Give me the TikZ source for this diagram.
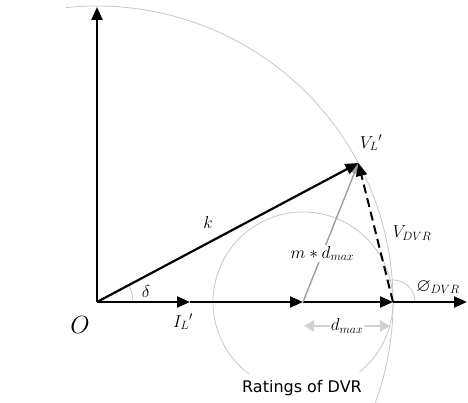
\documentclass[tikz,border=0pt]{standalone}
\usepackage{fontspec}
\usepackage{amssymb}
\newfontfamily\labelsans{DejaVu Sans}
\usetikzlibrary{arrows.meta}
\begin{document}
\begin{tikzpicture}[x=1pt,y=1pt,
  vec/.style={line width=2.2pt,-{Triangle[length=13pt,width=11pt]}},
  dvec/.style={line width=2pt,dash pattern=on 9pt off 5pt,-{Triangle[length=13pt,width=11pt]}},
  gvec/.style={line width=1.4pt,color=black!38,-{Triangle[length=11pt,width=9pt]}},
  circ/.style={line width=0.8pt,color=black!22},
  lab/.style={font=\fontsize{18.5}{21}\selectfont,inner sep=1pt},
  wlab/.style={font=\fontsize{18.5}{21}\selectfont,inner sep=1pt,fill=white}]
\useasboundingbox (0,0) rectangle (468,402);
\coordinate (O) at (97,100);
\coordinate (Y) at (97,395);
\coordinate (A1) at (190,100);
\coordinate (A2) at (303,100);
\coordinate (A3) at (393,100);
\coordinate (E) at (467,100);
\coordinate (V) at (358.4,239);
% circles
\begin{scope}
\clip (0,0) rectangle (468,402);
\draw[circ] (O) ++(-20:296) arc[start angle=-20,end angle=96,radius=296];
\end{scope}
\draw[circ] (A2) ++(-51:90) arc[start angle=-51,end angle=233,radius=90];
% angles
\draw[circ] (O) ++(0:36) arc[start angle=0,end angle=28,radius=36];
\draw[circ] (A3) ++(0:22) arc[start angle=0,end angle=104,radius=22];
% axes
\draw[vec] (O) -- (Y);
\draw[vec] (O) -- (A1);
\draw[vec] (A1) -- (A2);
\draw[vec] (A2) -- (A3);
\draw[vec] (A3) -- (E);
% vectors
\draw[gvec] (A2) -- node[wlab,pos=0.35,text=black] (md) {$m*d_{max}$} (V);
\draw[vec] (O) -- (V);
\draw[dvec] (A3) -- (V);
% d_max
\coordinate (D1) at (304,76);
\coordinate (D2) at (390,76);
\draw[line width=2.8pt,color=black!18,{Triangle[length=10pt,width=11pt]}-{Triangle[length=10pt,width=11pt]}] (D1) -- node[wlab,text=black] (dm) {$d_{max}$} (D2);
% labels
\node[lab] (lO) at (80,77) {\fontsize{23}{25}\selectfont$O$};
\node[lab] (lI) at (183,80) {$I_L{}'$};
\node[lab] (ld) at (146,111) {$\delta$};
\node[lab] (lk) at (208,180) {$k$};
\node[lab] (lV) at (371,259) {$V_L{}'$};
\node[lab] (lVD) at (412,169) {$V_{DVR}$};
\node[lab] (lP) at (438,115) {$\varnothing_{DVR}$};
\node[font=\labelsans\fontsize{16}{18}\selectfont,inner sep=1pt] (lR) at (302,14) {Ratings of DVR};
\end{tikzpicture}
\end{document}
